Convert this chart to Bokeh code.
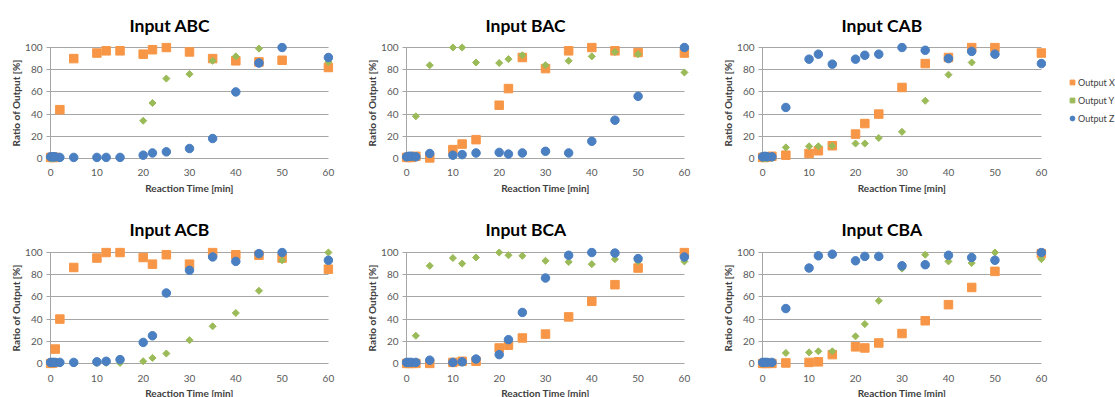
from bokeh.plotting import figure
from bokeh.models import Range1d, Title, Legend, LegendItem, FixedTicker
from bokeh.layouts import column, row
from bokeh.embed import file_html
from bokeh.resources import INLINE
import math

time_min = [0, 0.5, 1, 2, 5, 10, 12, 15, 20, 22, 25, 30, 35, 40, 45, 50, 60]

abc_x = [1, 1, 1, 44, 90, 95, 97, 97, 94, 98, 100, 96, 90, 88, 87, 88.5, 82]
abc_y = [0, 0, 0, 0, 1, 1, 1, 1, 34, 50, 72, 76, 88, 92, 99, 100, 87]
abc_z = [1.5, 1.5, 1.5, 1, 1, 1, 1, 1, 3, 5, 6, 9, 18, 60, 86, 100, 91]

bac_x = [1, 1, 1, 2, 0.5, 8, 13, 17, 48, 63, 91, 81, 97, 100, 97, 95.5, 95]
bac_y = [1, 1, 1, 38, 84, 100, 100, 86.5, 86, 89.5, 93, 84, 88, 92, 96, 94, 77.5]
bac_z = [1.5, 2, 2, 1.5, 4.5, 3, 3.5, 5, 5.5, 4, 5, 6.5, 5, 15.5, 34.5, 56, 100]

cab_x = [1, 1, 1.5, 2, 3, 4.5, 7, 11.5, 22, 31.5, 40, 64, 85.5, 91, 100, 100, 95]
cab_y = [0, 0, 0, 0.5, 10, 11, 11, 11.5, 13.5, 13.5, 18.5, 24, 52, 75.5, 86.5, 94, 86]
cab_z = [1.5, 2, 1.5, 1.5, 46, 89.5, 94, 85, 89.5, 93, 94, 100, 97.5, 90, 96.5, 94, 85.5]

acb_x = [0, 0.5, 13, 40, 86.5, 95, 100, 100, 95.5, 89.5, 98, 89.5, 100, 98, 97.5, 95, 85]
acb_y = [0, 0, 0, 0, 0.5, 0.5, 0.5, 0.5, 2, 5, 9, 21, 33.5, 45.5, 65.5, 93, 100]
acb_z = [1, 1, 1, 1, 1, 1.5, 2, 3.5, 19, 25, 63.5, 84, 96, 92, 99, 100, 93]

bca_x = [0, 0, 0, 0, 0, 1, 2, 2, 14, 16.5, 23, 26.5, 42, 56, 71, 86, 100]
bca_y = [0, 0, 0, 25, 88, 95, 90, 95.5, 100, 97.5, 97, 92.5, 91.5, 89.5, 94, 92, 92]
bca_z = [1, 1, 1, 1, 3, 1, 1.5, 4, 8, 21.5, 46, 77, 97.5, 100, 99.5, 94.5, 96]

cba_x = [0, 0, 0, 0, 0.5, 1, 1.5, 8, 15, 14, 18.5, 27, 38.5, 53, 68.5, 83, 99]
cba_y = [0, 0, 0, 0, 9.5, 10, 11, 11, 24.5, 35.5, 56.5, 85.5, 98, 92, 90.5, 100, 94]
cba_z = [1, 1, 1, 1, 49.5, 86, 97, 98.5, 92.5, 96.5, 96.5, 88, 89, 97.5, 95.5, 93, 100]

titles = ["Input ABC", "Input BAC", "Input CAB", "Input ACB", "Input BCA", "Input CBA"]
series_names = ["Output X", "Output Y", "Output Z"]
x_ticks = [0, 10, 20, 30, 40, 50, 60]
y_ticks = [0, 20, 40, 60, 80, 100]

C_X = "#F79646"
C_Y = "#9BBB59"
C_Z = "#4A7FC1"
FONT = "Lato"
GRID = "#A6A6A6"

# horizontal geometry per column: (border_left, frame_width, border_right)
cols = [(45, 288, 29), (39, 288, 11), (57, 289, 69)]
# vertical geometry per row:
# (border_top, frame_height, border_bottom, title_standoff, tick_standoff, xlabel_standoff)
rows_g = [(42, 121, 34, 13, 5, 3), (50, 121, 29, 15, 6, 2)]

X_PAD = 1.1
Y_PAD = 4.5


def make_panel(title, xv, yv, zv, ci, ri, legend=False):
    bl, fw, br = cols[ci]
    bt, fh, bb, ts, tks, xs = rows_g[ri]
    p = figure(frame_width=fw, frame_height=fh,
               min_border_left=bl, min_border_right=br,
               min_border_top=bt, min_border_bottom=bb,
               x_range=Range1d(-X_PAD, 60 + X_PAD),
               y_range=Range1d(-Y_PAD, 100 + Y_PAD),
               output_backend="svg", toolbar_location=None)
    p.outline_line_color = None
    p.background_fill_color = "white"
    p.border_fill_color = "white"
    # horizontal gridlines (incl. the x axis line at 0 and small tick stubs)
    p.ygrid.ticker = FixedTicker(ticks=y_ticks)
    p.ygrid.grid_line_color = GRID
    p.ygrid.cross_bounds = (-0.9, 60)
    # vertical axis line at x = 0
    p.xgrid.ticker = FixedTicker(ticks=[0])
    p.xgrid.grid_line_color = GRID
    p.xgrid.cross_bounds = (0, 100)

    p.xaxis.ticker = FixedTicker(ticks=x_ticks)
    p.yaxis.ticker = FixedTicker(ticks=y_ticks)
    for ax in (p.xaxis[0], p.yaxis[0]):
        ax.axis_line_color = None
        ax.major_tick_line_color = None
        ax.minor_tick_line_color = None
        ax.major_tick_in = 0
        ax.major_tick_out = 0
        ax.major_label_text_font = FONT
        ax.major_label_text_font_size = "10px"
        ax.major_label_text_color = "#595959"
        ax.axis_label_text_font = FONT
        ax.axis_label_text_font_style = "bold"
        ax.axis_label_text_font_size = "10px"
        ax.axis_label_text_color = "#404040"
    p.xaxis.major_label_standoff = tks
    p.yaxis.major_label_standoff = 3
    p.xaxis.axis_label = "Reaction Time [min]"
    p.yaxis.axis_label = "Ratio of Output [%]"
    p.xaxis.axis_label_standoff = xs
    p.yaxis.axis_label_standoff = 0

    t = Title(text=title, align="left", offset=84, text_font=FONT,
              text_font_size="17.5px", text_font_style="bold",
              text_color="#000000", standoff=ts)
    p.add_layout(t, "above")

    rx = p.scatter(time_min, xv, marker="square", size=8.5, color=C_X)
    ry = p.scatter(time_min, yv, marker="square", size=5, angle=math.pi / 4, color=C_Y)
    rz = p.scatter(time_min, zv, marker="circle", size=8.5, color=C_Z)
    if legend:
        items = [LegendItem(label=series_names[0], renderers=[rx]),
                 LegendItem(label=series_names[1], renderers=[ry]),
                 LegendItem(label=series_names[2], renderers=[rz])]
        lg = Legend(items=items, location=(20, 36), margin=0, padding=0,
                    glyph_width=12, glyph_height=18, label_height=18,
                    spacing=0, label_standoff=0,
                    label_text_font=FONT, label_text_font_size="9px",
                    label_text_color="#404040",
                    border_line_color=None, background_fill_alpha=0)
        p.add_layout(lg, "right")
    return p


f1 = make_panel(titles[0], abc_x, abc_y, abc_z, 0, 0)
f2 = make_panel(titles[1], bac_x, bac_y, bac_z, 1, 0)
f3 = make_panel(titles[2], cab_x, cab_y, cab_z, 2, 0, legend=True)
f4 = make_panel(titles[3], acb_x, acb_y, acb_z, 0, 1)
f5 = make_panel(titles[4], bca_x, bca_y, bca_z, 1, 1)
f6 = make_panel(titles[5], cba_x, cba_y, cba_z, 2, 1)

layout = column(row(f1, f2, f3), row(f4, f5, f6))
open("out.html", "w").write(file_html(layout, INLINE))
